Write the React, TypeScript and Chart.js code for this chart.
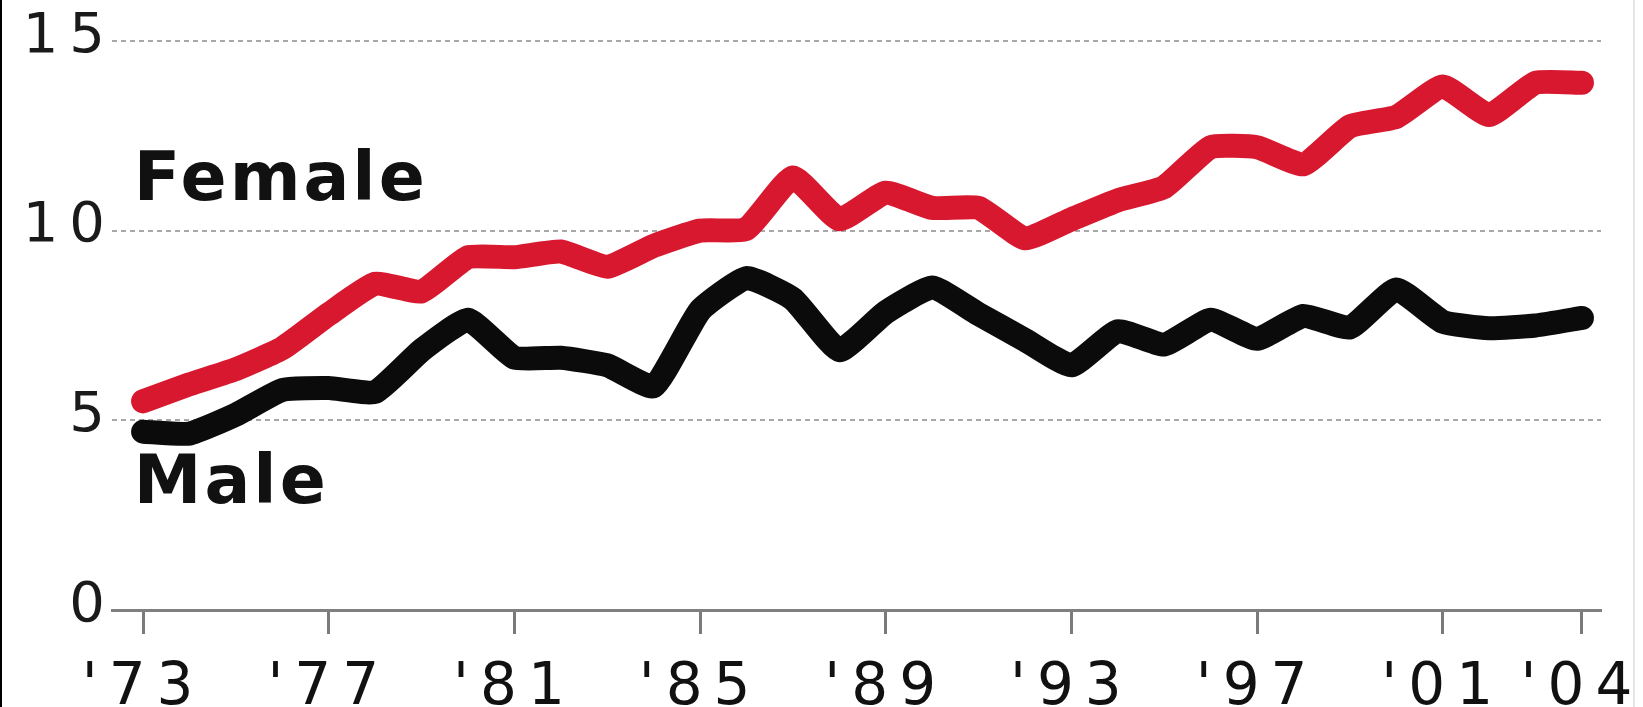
import React, { useEffect, useRef } from "react";
import { Chart, registerables } from "chart.js";

Chart.register(...registerables);

// ---- data ----
const years = [
  1973, 1974, 1975, 1976, 1977, 1978, 1979, 1980, 1981, 1982, 1983, 1984, 1985, 1986, 1987, 1988,
  1989, 1990, 1991, 1992, 1993, 1994, 1995, 1996, 1997, 1998, 1999, 2000, 2001, 2002, 2003, 2004,
];
const female = [
  5.5, 5.95, 6.35, 6.9, 7.8, 8.6, 8.4, 9.3, 9.3, 9.45, 9.05, 9.6, 10.0, 10.05, 11.4, 10.3,
  11.0, 10.6, 10.6, 9.8, 10.3, 10.8, 11.15, 12.2, 12.2, 11.75, 12.75, 13.0, 13.8, 13.05, 13.9, 13.9,
];
const male = [
  4.7, 4.65, 5.15, 5.8, 5.85, 5.75, 6.85, 7.65, 6.65, 6.65, 6.45, 5.9, 7.9, 8.75, 8.2, 6.85,
  7.85, 8.5, 7.8, 7.12, 6.45, 7.35, 7.0, 7.65, 7.15, 7.75, 7.45, 8.45, 7.6, 7.43, 7.5, 7.7,
];
const xTickYears = [1973, 1977, 1981, 1985, 1989, 1993, 1997, 2001, 2004];
const xTickLabels = ["'73", "'77", "'81", "'85", "'89", "'93", "'97", "'01", "'04"];
const yTickValues = [0, 5, 10, 15];
const yTickLabels = ["0", "5", "10", "15"];
const seriesNames = ["Female", "Male"];
const seriesNameAnchors = [
  { x: 1972.8, y: 10.81 },
  { x: 1972.8, y: 2.82 },
];

const RED = "#d8182e";
const BLACK = "#0b0b0b";
const TICK_SPACING = "11px";

const spacingPlugin = {
  id: "tickSpacing",
  beforeLayout(chart: any) {
    chart.ctx.letterSpacing = TICK_SPACING;
  },
  beforeDraw(chart: any) {
    chart.ctx.letterSpacing = TICK_SPACING;
  },
  beforeDatasetsDraw(chart: any) {
    chart.ctx.letterSpacing = "0px";
  },
};

const labelsPlugin = {
  id: "seriesNames",
  afterDraw(chart: any) {
    const ctx = chart.ctx;
    const xs = chart.scales.x;
    const ys = chart.scales.y;
    ctx.save();
    ctx.letterSpacing = "3px";
    ctx.font = 'bold 68px "DejaVu Sans"';
    ctx.fillStyle = "#111";
    ctx.textAlign = "left";
    ctx.textBaseline = "alphabetic";
    seriesNames.forEach((name, i) => {
      const a = seriesNameAnchors[i];
      ctx.fillText(name, xs.getPixelForValue(a.x), ys.getPixelForValue(a.y));
    });
    // frame edges
    ctx.letterSpacing = "0px";
    ctx.fillStyle = "#000";
    ctx.fillRect(0, 0, 2, chart.height);
    ctx.fillStyle = "#e6e6e6";
    ctx.fillRect(1633, 0, 2, chart.height);
    ctx.restore();
  },
};

export default function App() {
  const ref = useRef<HTMLCanvasElement>(null);

  useEffect(() => {
    document.body.style.margin = "0";
    const canvas = ref.current;
    if (!canvas) return;
    const chart = new Chart(canvas, {
      type: "line",
      data: {
        datasets: [
          {
            label: "Male",
            data: years.map((yr, i) => ({ x: yr, y: male[i] })),
            borderColor: BLACK,
            backgroundColor: BLACK,
            borderWidth: 24,
            borderCapStyle: "round",
            borderJoinStyle: "round",
            pointRadius: 0,
            tension: 0.15,
            clip: false as any,
          },
          {
            label: "Female",
            data: years.map((yr, i) => ({ x: yr, y: female[i] })),
            borderColor: RED,
            backgroundColor: RED,
            borderWidth: 24,
            borderCapStyle: "round",
            borderJoinStyle: "round",
            pointRadius: 0,
            tension: 0.15,
            clip: false as any,
          },
        ],
      },
      options: {
        animation: false,
        responsive: false,
        devicePixelRatio: 1,
        layout: { padding: { top: 41, right: 42, bottom: 0, left: 0 } },
        plugins: {
          legend: { display: false },
          tooltip: { enabled: false },
          title: { display: false },
        },
        scales: {
          x: {
            type: "linear",
            min: 1972.33,
            max: 2004.41,
            afterBuildTicks: (scale: any) => {
              scale.ticks = xTickYears.map((v) => ({ value: v }));
            },
            afterFit: (scale: any) => {
              scale.height = 97;
              scale.paddingLeft = 0;
              scale.paddingRight = 0;
            },
            grid: {
              display: true,
              drawOnChartArea: false,
              drawTicks: true,
              tickLength: 24,
              tickWidth: 3,
              tickColor: "#7a7a7a",
              color: "#7a7a7a",
            },
            border: { display: true, color: "#808080", width: 3 },
            ticks: {
              autoSkip: false,
              maxRotation: 0,
              minRotation: 0,
              padding: 20,
              color: "#111",
              font: { family: '"DejaVu Sans"', size: 58 },
              callback: (value: any) => {
                const idx = xTickYears.indexOf(Number(value));
                return idx >= 0 ? xTickLabels[idx] : "";
              },
            },
          },
          y: {
            type: "linear",
            min: 0,
            max: 15,
            afterBuildTicks: (scale: any) => {
              scale.ticks = yTickValues.map((v) => ({ value: v }));
            },
            afterFit: (scale: any) => {
              scale.width = 112;
              scale.paddingTop = 0;
              scale.paddingBottom = 0;
            },
            grid: {
              drawTicks: false,
              lineWidth: 2,
              color: (c: any) => (c.tick && c.tick.value === 0 ? "rgba(0,0,0,0)" : "#a8a8a8"),
            },
            border: { display: false, dash: [5, 4] },
            ticks: {
              padding: -4,
              labelOffset: -4,
              color: "#1a1a1a",
              font: { family: '"DejaVu Sans"', size: 56 },
              callback: (value: any) => {
                const idx = yTickValues.indexOf(Number(value));
                return idx >= 0 ? yTickLabels[idx] : "";
              },
            },
          },
        },
      },
      plugins: [spacingPlugin, labelsPlugin],
    });
    return () => chart.destroy();
  }, []);

  return (
    <div style={{ width: 1643, height: 707, position: "relative", background: "#fff" }}>
      <canvas ref={ref} width={1643} height={707} />
    </div>
  );
}
